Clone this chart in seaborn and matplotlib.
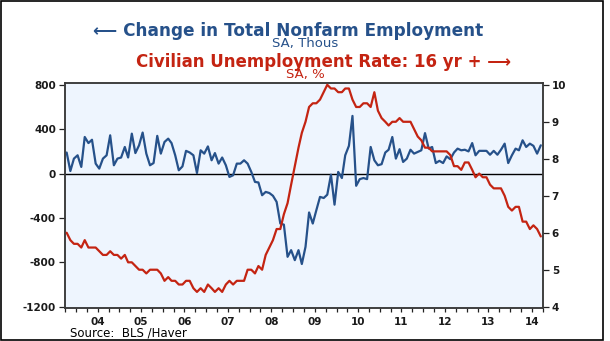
import numpy as np
import pandas as pd
import matplotlib
matplotlib.use("Agg")
import matplotlib.pyplot as plt
import matplotlib.dates as mdates
from matplotlib.patches import Rectangle
import seaborn as sns

# ---------------- data (monthly, Oct 2003 - Sep 2014) ----------------
start_month = "2003-10"
payroll_change = [
    190, 23, 135,
    165, 60, 330, 275, 305, 90, 45, 135, 165, 345, 75, 135,
    145, 240, 145, 360, 185, 255, 370, 180, 75, 95, 340, 180,
    285, 315, 275, 165, 30, 65, 205, 190, 165, 5, 210, 180,
    245, 120, 185, 90, 145, 75, -30, -15, 90, 90, 120, 90,
    15, -75, -80, -195, -165, -175, -200, -255, -450, -460, -750, -690,
    -780, -690, -815, -660, -350, -450, -330, -210, -220, -190, -10, -280,
    15, -40, 165, 250, 520, -110, -50, -40, -50, 240, 120, 75,
    85, 190, 215, 330, 135, 220, 105, 135, 215, 180, 195, 210,
    365, 225, 240, 95, 115, 95, 155, 130, 190, 225, 210, 215,
    200, 275, 165, 205, 205, 205, 170, 205, 170, 215, 270, 95,
    165, 225, 210, 300, 240, 270, 250, 180, 255,
]
unemployment_rate = [
    6.0, 5.8, 5.7,
    5.7, 5.6, 5.8, 5.6, 5.6, 5.6, 5.5, 5.4, 5.4, 5.5, 5.4, 5.4,
    5.3, 5.4, 5.2, 5.2, 5.1, 5.0, 5.0, 4.9, 5.0, 5.0, 5.0, 4.9,
    4.7, 4.8, 4.7, 4.7, 4.6, 4.6, 4.7, 4.7, 4.5, 4.4, 4.5, 4.4,
    4.6, 4.5, 4.4, 4.5, 4.4, 4.6, 4.7, 4.6, 4.7, 4.7, 4.7, 5.0,
    5.0, 4.9, 5.1, 5.0, 5.4, 5.6, 5.8, 6.1, 6.1, 6.5, 6.8, 7.3,
    7.8, 8.3, 8.7, 9.0, 9.4, 9.5, 9.5, 9.6, 9.8, 10.0, 9.9, 9.9,
    9.8, 9.8, 9.9, 9.9, 9.6, 9.4, 9.4, 9.5, 9.5, 9.4, 9.8, 9.3,
    9.1, 9.0, 8.9, 9.0, 9.0, 9.1, 9.0, 9.0, 9.0, 8.8, 8.6, 8.5,
    8.3, 8.3, 8.2, 8.2, 8.2, 8.2, 8.2, 8.1, 7.8, 7.8, 7.7, 7.9,
    7.9, 7.7, 7.5, 7.6, 7.5, 7.5, 7.3, 7.2, 7.2, 7.2, 7.0, 6.7,
    6.6, 6.7, 6.7, 6.3, 6.3, 6.1, 6.2, 6.1, 5.9,
]
left_ticks = [800, 400, 0, -400, -800, -1200]
right_ticks = [4, 5, 6, 7, 8, 9, 10]

title_emp = "\u27f5 Change in Total Nonfarm Employment"
sub_emp = "SA, Thous"
title_ur = "Civilian Unemployment Rate: 16 yr + \u27f6"
sub_ur = "SA, %"
source_text = "Source:  BLS /Haver"

BLUE = "#26518a"
RED = "#c42412"
BG = "#EEF5FE"

# ---------------- styling ----------------
sns.set_theme(style="white")
plt.rcParams["font.family"] = ["DejaVu Sans", "Noto Sans"]
plt.rcParams["axes.unicode_minus"] = False

months = pd.period_range(start_month, periods=len(payroll_change), freq="M")
dates = months.to_timestamp(how="start") + pd.Timedelta(days=14)
df = pd.DataFrame({"date": dates, "payroll": payroll_change, "rate": unemployment_rate})

W, H = 610, 341
fig = plt.figure(figsize=(W / 100, H / 100), dpi=100)
fig.patch.set_facecolor("white")
L, R, T, B = 65, 542.7, 82.5, 308.3
ax = fig.add_axes([L / W, 1 - B / H, (R - L) / W, (B - T) / H])
ax.set_facecolor(BG)

ax.axhline(0, color="black", lw=1.0, zorder=1)
sns.lineplot(data=df, x="date", y="payroll", ax=ax, color=BLUE, lw=1.6, zorder=3)

ax2 = ax.twinx()
sns.lineplot(data=df, x="date", y="rate", ax=ax2, color=RED, lw=1.6, zorder=3)

ax.set_xlim(pd.Timestamp("2003-10-01"), pd.Timestamp("2014-10-01"))
ax.set_ylim(-1214, 821)
ax2.set_ylim(3.957, 10.062)

ax.set_yticks(left_ticks)
ax2.set_yticks(right_ticks)
ax.set_xlabel("")
ax.set_ylabel("")
ax2.set_ylabel("")

ax.xaxis.set_major_locator(mdates.MonthLocator(bymonth=[7]))
ax.xaxis.set_major_formatter(mdates.DateFormatter("%y"))
ax.xaxis.set_minor_locator(mdates.MonthLocator(bymonth=[1, 4, 10]))

ax.tick_params(axis="x", which="both", direction="out", length=3, width=0.9,
               color="#222222", bottom=True, pad=3.5, labelsize=7.5)
ax.tick_params(axis="y", which="both", direction="out", length=4, width=0.9,
               color="#222222", left=True, pad=2.5, labelsize=7.5)
ax2.tick_params(axis="y", which="both", direction="out", length=4, width=0.9,
                color="#222222", right=True, pad=2.5, labelsize=7.5)
for lab in ax.get_xticklabels() + ax.get_yticklabels() + ax2.get_yticklabels():
    lab.set_fontweight("bold")
    lab.set_color("#1a1a1a")

for a in (ax, ax2):
    for s in a.spines.values():
        s.set_color("#3a3a3a")
        s.set_linewidth(1.1)
ax.grid(False)
ax2.grid(False)

def fy(y):
    return 1 - y / H

fig.text(288 / W, fy(31.0), title_emp, color=BLUE, fontsize=12.2, fontweight="bold",
         ha="center", va="center")
fig.text(305 / W, fy(44.0), sub_emp, color=BLUE, fontsize=9.5, ha="center", va="center")
fig.text(324 / W, fy(61.8), title_ur, color=RED, fontsize=12, fontweight="bold",
         ha="center", va="center")
fig.text(305 / W, fy(74.5), sub_ur, color=RED, fontsize=9.5, ha="center", va="center")
fig.text(70.5 / W, fy(332.5), source_text, color="black", fontsize=8.5,
         ha="left", va="center")

fig.patches.append(Rectangle((0.5 / W, 1.0 / H), (W - 7.5) / W, (H - 2.0) / H,
                             transform=fig.transFigure, fill=False,
                             edgecolor="black", lw=1.2))

fig.savefig("out.png", dpi=100, facecolor="white")
